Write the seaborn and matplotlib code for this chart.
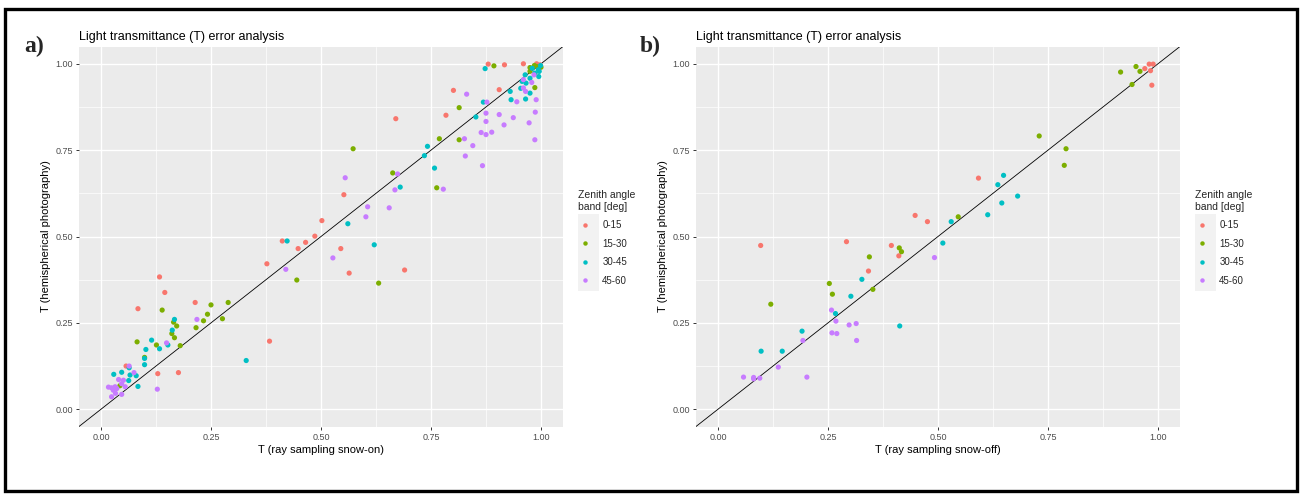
import numpy as np
import pandas as pd
import matplotlib
matplotlib.use("Agg")
import matplotlib.pyplot as plt
from matplotlib.lines import Line2D
from matplotlib.patches import Rectangle
import seaborn as sns

# ---------------- data ----------------
bands = ["0-15", "15-30", "30-45", "45-60"]
palette = ["#F8766D", "#7CAE00", "#00BFC4", "#C77CFF"]

# Panel a (snow-on)
a_red_x = [0.880, 0.917, 0.960, 0.998, 0.801, 0.905, 0.670, 0.784, 0.986, 0.552, 0.502, 0.486,
           0.412, 0.448, 0.465, 0.545, 0.377, 0.564, 0.690, 0.133, 0.145, 0.084, 0.214, 0.383,
           0.057, 0.129, 0.176, 0.990, 0.995]
a_red_y = [0.999, 0.997, 1.000, 0.997, 0.923, 0.925, 0.841, 0.851, 0.971, 0.621, 0.546, 0.501,
           0.487, 0.465, 0.483, 0.465, 0.421, 0.394, 0.403, 0.383, 0.338, 0.291, 0.309, 0.197,
           0.125, 0.103, 0.106, 1.000, 0.985]
a_grn_x = [0.893, 0.975, 0.986, 0.814, 0.769, 0.814, 0.573, 0.663, 0.763, 0.445, 0.631, 0.139,
           0.082, 0.250, 0.289, 0.242, 0.233, 0.276, 0.216, 0.165, 0.172, 0.161, 0.167, 0.180,
           0.126, 0.099, 0.043, 0.990, 0.975, 1.000, 0.985]
a_grn_y = [0.994, 0.989, 0.931, 0.873, 0.783, 0.780, 0.754, 0.684, 0.641, 0.374, 0.365, 0.287,
           0.195, 0.302, 0.309, 0.275, 0.256, 0.262, 0.236, 0.252, 0.241, 0.219, 0.207, 0.184,
           0.186, 0.150, 0.068, 0.992, 0.978, 0.990, 0.995]
a_cyn_x = [0.873, 0.964, 0.966, 0.975, 0.995, 0.930, 0.975, 0.869, 0.932, 0.965, 0.954, 0.852,
           0.742, 0.735, 0.758, 0.680, 0.561, 0.423, 0.621, 0.330, 0.167, 0.162, 0.115, 0.102,
           0.133, 0.152, 0.099, 0.099, 0.064, 0.047, 0.029, 0.066, 0.080, 0.063, 0.084,
           0.980, 0.994, 0.986, 0.996, 0.957, 0.999]
a_cyn_y = [0.986, 0.968, 0.944, 0.958, 0.963, 0.920, 0.915, 0.889, 0.896, 0.898, 0.929, 0.846,
           0.761, 0.734, 0.698, 0.643, 0.537, 0.487, 0.476, 0.141, 0.260, 0.229, 0.200, 0.173,
           0.175, 0.186, 0.147, 0.129, 0.120, 0.107, 0.101, 0.099, 0.097, 0.083, 0.066,
           0.987, 0.983, 0.973, 0.978, 0.949, 0.995]
a_pur_x = [0.831, 0.960, 0.979, 0.984, 0.960, 0.965, 0.877, 0.945, 0.989, 0.875, 0.905, 0.937,
           0.987, 0.875, 0.916, 0.973, 0.864, 0.875, 0.888, 0.826, 0.845, 0.828, 0.867, 0.986,
           0.555, 0.674, 0.668, 0.778, 0.606, 0.602, 0.655, 0.527, 0.420, 0.218, 0.149, 0.064,
           0.075, 0.040, 0.051, 0.047, 0.055, 0.017, 0.024, 0.032, 0.036, 0.028, 0.033, 0.024,
           0.047, 0.128]
a_pur_y = [0.912, 0.954, 0.946, 0.968, 0.930, 0.920, 0.889, 0.890, 0.896, 0.857, 0.853, 0.844,
           0.860, 0.833, 0.823, 0.829, 0.801, 0.795, 0.802, 0.783, 0.763, 0.733, 0.705, 0.780,
           0.670, 0.681, 0.635, 0.637, 0.586, 0.557, 0.583, 0.438, 0.405, 0.260, 0.192, 0.125,
           0.106, 0.086, 0.084, 0.074, 0.065, 0.064, 0.062, 0.065, 0.060, 0.055, 0.046, 0.036,
           0.043, 0.058]

# Panel b (snow-off)
b_red_x = [0.980, 0.989, 0.970, 0.983, 0.986, 0.592, 0.448, 0.476, 0.097, 0.292, 0.394, 0.411, 0.342]
b_red_y = [0.999, 0.999, 0.986, 0.980, 0.938, 0.669, 0.561, 0.543, 0.474, 0.485, 0.474, 0.444, 0.400]
b_grn_x = [0.915, 0.950, 0.959, 0.941, 0.730, 0.791, 0.787, 0.546, 0.412, 0.417, 0.344, 0.253,
           0.260, 0.352, 0.120]
b_grn_y = [0.976, 0.992, 0.978, 0.940, 0.791, 0.754, 0.706, 0.557, 0.467, 0.456, 0.441, 0.364,
           0.333, 0.347, 0.304]
b_cyn_x = [0.649, 0.636, 0.681, 0.645, 0.613, 0.530, 0.511, 0.327, 0.302, 0.267, 0.413, 0.191,
           0.098, 0.146]
b_cyn_y = [0.677, 0.650, 0.617, 0.597, 0.563, 0.543, 0.481, 0.376, 0.327, 0.277, 0.241, 0.226,
           0.168, 0.168]
b_pur_x = [0.492, 0.258, 0.268, 0.298, 0.314, 0.259, 0.270, 0.193, 0.315, 0.137, 0.058, 0.081,
           0.081, 0.095, 0.202]
b_pur_y = [0.439, 0.287, 0.255, 0.244, 0.248, 0.221, 0.219, 0.199, 0.199, 0.122, 0.093, 0.092,
           0.088, 0.090, 0.093]

ticks = [0.0, 0.25, 0.5, 0.75, 1.0]
tick_labels = ["0.00", "0.25", "0.50", "0.75", "1.00"]


def make_df(groups):
    rows = []
    for band, (xs, ys) in zip(bands, groups):
        for x, y in zip(xs, ys):
            rows.append((x, y, band))
    return pd.DataFrame(rows, columns=["x", "y", "band"])


df_a = make_df([(a_red_x, a_red_y), (a_grn_x, a_grn_y), (a_cyn_x, a_cyn_y), (a_pur_x, a_pur_y)])
df_b = make_df([(b_red_x, b_red_y), (b_grn_x, b_grn_y), (b_cyn_x, b_cyn_y), (b_pur_x, b_pur_y)])

# ---------------- figure ----------------
sns.set_theme(style="darkgrid")
plt.rcParams["font.family"] = ["Liberation Sans", "DejaVu Sans"]

W, H = 1301, 495
fig = plt.figure(figsize=(W / 100, H / 100), dpi=100)
fig.patch.set_facecolor("white")


def px_rect(l, t, r, b):
    return [l / W, 1 - b / H, (r - l) / W, (b - t) / H]


def style_ax(ax, xlabel):
    ax.set_facecolor("#EBEBEB")
    ax.set_xlim(-0.05, 1.05)
    ax.set_ylim(-0.05, 1.05)
    ax.set_xticks(ticks)
    ax.set_xticklabels(tick_labels)
    ax.set_yticks(ticks)
    ax.set_yticklabels(tick_labels)
    ax.set_xticks([0.125, 0.375, 0.625, 0.875], minor=True)
    ax.set_yticks([0.125, 0.375, 0.625, 0.875], minor=True)
    ax.grid(which="major", color="white", linewidth=1.0)
    ax.grid(which="minor", color="white", linewidth=0.5)
    for s in ax.spines.values():
        s.set_visible(False)
    ax.tick_params(axis="both", which="major", length=2.5, width=0.7, color="#333333",
                   labelsize=6.5, labelcolor="#4D4D4D", pad=2, direction="out")
    ax.tick_params(axis="both", which="minor", length=0)
    ax.xaxis.set_ticks_position("bottom")
    ax.yaxis.set_ticks_position("left")
    ax.set_xlabel(xlabel, fontsize=8, color="black", labelpad=2)
    ax.set_ylabel("T (hemispherical photography)", fontsize=8, color="black", labelpad=3)
    ax.set_title("Light transmittance (T) error analysis", loc="left", fontsize=9,
                 color="black", pad=5)
    ax.set_axisbelow(True)


def add_legend(ax, lx, ty):
    # grey key background
    fig.patches.append(Rectangle((lx / W, 1 - 291 / H), 21 / W, 77 / H,
                                 transform=fig.transFigure, facecolor="#F2F2F2",
                                 edgecolor="none", zorder=-1))
    handles = [Line2D([], [], marker="o", linestyle="none", markersize=3.2,
                      markerfacecolor=c, markeredgecolor="none") for c in palette]
    leg = ax.legend(handles, bands, title="Zenith angle\nband [deg]", loc="upper left",
                    bbox_to_anchor=((lx - 3) / W, 1 - ty / H), bbox_transform=fig.transFigure,
                    frameon=False, fontsize=7, title_fontsize=7.5, labelspacing=0.88,
                    handlelength=1.5, handletextpad=1.0, borderaxespad=0, borderpad=0.3)
    leg._legend_box.align = "left"
    leg.set_zorder(5)


for (df, left, right, xlabel, letter_x, leg_x) in [
    (df_a, 79, 563, "T (ray sampling snow-on)", 24, 578),
    (df_b, 696, 1180, "T (ray sampling snow-off)", 640, 1195),
]:
    ax = fig.add_axes(px_rect(left, 46.5, right, 426.5))
    ax.axline((0, 0), (1, 1), color="black", linewidth=0.6, zorder=1)
    sns.scatterplot(data=df, x="x", y="y", hue="band", hue_order=bands, palette=palette,
                    s=14, linewidth=0, legend=False, ax=ax, zorder=2)
    style_ax(ax, xlabel)
    add_legend(ax, leg_x, 187)
    fig.text(letter_x / W, 1 - 46 / H, "a)" if left < 600 else "b)", fontsize=17,
             fontweight="bold", family=["Liberation Serif", "DejaVu Serif"],
             ha="left", va="center")

# outer frame
fig.patches.append(Rectangle((5 / W, 1 - 491 / H), 1292 / W, 482 / H, transform=fig.transFigure,
                             facecolor="none", edgecolor="black", linewidth=2.4, zorder=10))

fig.savefig("out.png", dpi=100, facecolor="white")
